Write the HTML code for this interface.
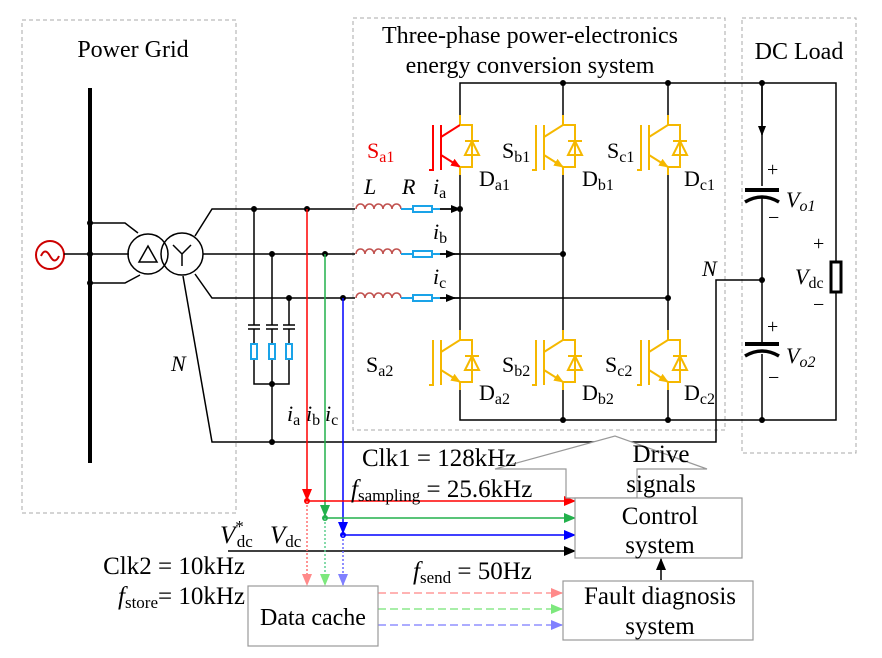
<!DOCTYPE html>
<html><head><meta charset="utf-8"><style>
html,body{margin:0;padding:0;background:#fff;}
svg{display:block;font-family:"Liberation Serif",serif;}
</style></head><body>
<svg width="882" height="658" viewBox="0 0 882 658" xmlns="http://www.w3.org/2000/svg">
<defs>
<marker id="ak" markerWidth="10" markerHeight="8" refX="9" refY="4" orient="auto" markerUnits="userSpaceOnUse"><path d="M0,0L10,4L0,8z" fill="#000"/></marker>
<marker id="ar" markerWidth="12" markerHeight="10" refX="11" refY="5" orient="auto" markerUnits="userSpaceOnUse"><path d="M0,0L12,5L0,10z" fill="#f00"/></marker>
<marker id="ag" markerWidth="12" markerHeight="10" refX="11" refY="5" orient="auto" markerUnits="userSpaceOnUse"><path d="M0,0L12,5L0,10z" fill="#22b14c"/></marker>
<marker id="ab" markerWidth="12" markerHeight="10" refX="11" refY="5" orient="auto" markerUnits="userSpaceOnUse"><path d="M0,0L12,5L0,10z" fill="#00f"/></marker>
<marker id="ak2" markerWidth="12" markerHeight="10" refX="11" refY="5" orient="auto" markerUnits="userSpaceOnUse"><path d="M0,0L12,5L0,10z" fill="#000"/></marker>
<marker id="lr" markerWidth="12" markerHeight="10" refX="11" refY="5" orient="auto" markerUnits="userSpaceOnUse"><path d="M0,0L12,5L0,10z" fill="#ff8a8a"/></marker>
<marker id="lg" markerWidth="12" markerHeight="10" refX="11" refY="5" orient="auto" markerUnits="userSpaceOnUse"><path d="M0,0L12,5L0,10z" fill="#7de87d"/></marker>
<marker id="lb" markerWidth="12" markerHeight="10" refX="11" refY="5" orient="auto" markerUnits="userSpaceOnUse"><path d="M0,0L12,5L0,10z" fill="#8080ff"/></marker>
<marker id="ly" markerWidth="10" markerHeight="8" refX="9" refY="4" orient="auto" markerUnits="userSpaceOnUse"><path d="M0,0L10,4L0,8z" fill="#f5b800"/></marker>
<marker id="lred" markerWidth="10" markerHeight="8" refX="9" refY="4" orient="auto" markerUnits="userSpaceOnUse"><path d="M0,0L10,4L0,8z" fill="#f00"/></marker>
<g id="igbt" fill="none" stroke="#f5b800" stroke-width="2">
<path d="M0,0V10L-19,22" />
<path d="M-19,40L0,52" marker-end="url(#ly)"/>
<path d="M0,52V60M-19,10V55M-27,10V55H-31M0,10H12V52H0"/>
<path d="M5,40H19L12,26zM5,26H19"/>
</g>
<g id="igbtR" fill="none" stroke-width="2">
<path d="M0,0V10" stroke="#f5b800"/>
<path d="M0,10L-19,22M-19,10V55M-27,10V55H-31" stroke="#f00"/>
<path d="M-19,40L0,52" stroke="#f00" marker-end="url(#lred)"/>
<path d="M0,52V60M0,10H12V52H0M5,40H19L12,26zM5,26H19" stroke="#f5b800"/>
</g>
</defs>

<g fill="none" stroke="#aaa" stroke-dasharray="4,3" stroke-width="1">
<rect x="22" y="20" width="214" height="493"/>
<rect x="353" y="18" width="372" height="412"/>
<rect x="742" y="18" width="114" height="435"/>
</g>

<g font-size="24" fill="#000" text-anchor="middle">
<text x="133" y="57">Power Grid</text>
<text x="530" y="43">Three-phase power-electronics</text>
<text x="530" y="73">energy conversion system</text>
<text x="799" y="59">DC Load</text>
</g>

<line x1="90" y1="88" x2="90" y2="463" stroke="#000" stroke-width="4"/>
<circle cx="50" cy="255" r="14" fill="none" stroke="#c00" stroke-width="2"/>
<path d="M41,256 q4,-9 9,0 q5,9 9,0" fill="none" stroke="#c00" stroke-width="2"/>
<g fill="none" stroke="#000" stroke-width="1.5">
<path d="M64,254H129M90,223H125L138,233M90,283H125L140,275"/>
<circle cx="148" cy="254" r="20"/><circle cx="182" cy="254" r="21"/>
<path d="M139,262H157L148,246z"/>
<path d="M182,254V266M182,254L173,245M182,254L191,245"/>
<path d="M195,236L212,209H460M203,254H460M195,274L212,298H460"/>
<path d="M183,276L212,442H716V280H762"/>
<path d="M254,209V325M272,254V325M289,298V325"/>
<path d="M248,325h12M248,329h12M266,325h12M266,329h12M283,325h12M283,329h12"/>
<path d="M254,329V344M272,329V344M289,329V344M254,359V384H289V359M272,359V442"/>
</g>
<g fill="none" stroke="#1aa3e8" stroke-width="2">
<rect x="251" y="344" width="6" height="15"/><rect x="269" y="344" width="6" height="15"/><rect x="286" y="344" width="6" height="15"/>
</g>
<g fill="#000">
<circle cx="90" cy="223" r="3"/><circle cx="90" cy="254" r="3"/><circle cx="90" cy="283" r="3"/>
<circle cx="254" cy="209" r="3"/><circle cx="307" cy="209" r="3"/>
<circle cx="272" cy="254" r="3"/><circle cx="325" cy="254" r="3"/>
<circle cx="289" cy="298" r="3"/><circle cx="343" cy="298" r="3"/>
<circle cx="272" cy="384" r="3"/><circle cx="272" cy="442" r="3"/>
</g>
<text x="171" y="371" font-size="22" font-style="italic">N</text>

<g fill="#fff" stroke="#fff" stroke-width="4"><path d="M355,209H410M355,254H410M355,298H410"/></g>
<g fill="none" stroke="#c0504d" stroke-width="1.6">
<path d="M356,209 a4.5,5 0 0 1 9,0 a4.5,5 0 0 1 9,0 a4.5,5 0 0 1 9,0 a4.5,5 0 0 1 9,0 a4.5,5 0 0 1 9,0"/>
<path d="M356,254 a4.5,5 0 0 1 9,0 a4.5,5 0 0 1 9,0 a4.5,5 0 0 1 9,0 a4.5,5 0 0 1 9,0 a4.5,5 0 0 1 9,0"/>
<path d="M356,298 a4.5,5 0 0 1 9,0 a4.5,5 0 0 1 9,0 a4.5,5 0 0 1 9,0 a4.5,5 0 0 1 9,0 a4.5,5 0 0 1 9,0"/>
</g>
<g stroke="#1aa3e8" stroke-width="2" fill="#fff">
<path d="M401,209H413M401,254H413M401,298H413M432,209H440M432,254H440M432,298H440"/>
<rect x="413" y="206" width="19" height="6"/><rect x="413" y="251" width="19" height="6"/><rect x="413" y="295" width="19" height="6"/>
</g>
<g stroke="#000" stroke-width="1.5">
<path d="M440,209H460" marker-end="url(#ak)"/>
<path d="M440,254H563"/><path d="M440,254H455" marker-end="url(#ak)"/>
<path d="M440,298H668"/><path d="M440,298H455" marker-end="url(#ak)"/>
</g>
<g font-size="22">
<text x="364" y="194" font-style="italic">L</text>
<text x="402" y="194" font-style="italic">R</text>
<text x="433" y="194" font-style="italic">i<tspan font-size="16" font-style="normal" dy="4">a</tspan></text>
<text x="433" y="239" font-style="italic">i<tspan font-size="16" font-style="normal" dy="4">b</tspan></text>
<text x="433" y="284" font-style="italic">i<tspan font-size="16" font-style="normal" dy="4">c</tspan></text>
</g>

<g fill="none" stroke="#000" stroke-width="1.5">
<path d="M460,115V83H836V262M836,292V420H460V390"/>
<path d="M460,175V330M563,83V115M563,175V330M563,390V420M668,83V115M668,175V330M668,390V420"/>
<path d="M762,83V186M762,196V344M762,354V420"/>
</g>
<path d="M762,83V135" stroke="#000" stroke-width="1.5" marker-end="url(#ak)"/>
<g fill="#000">
<circle cx="460" cy="209" r="3"/><circle cx="563" cy="254" r="3"/><circle cx="668" cy="298" r="3"/>
<circle cx="563" cy="83" r="3"/><circle cx="668" cy="83" r="3"/><circle cx="762" cy="83" r="3"/>
<circle cx="563" cy="420" r="3"/><circle cx="668" cy="420" r="3"/><circle cx="762" cy="420" r="3"/>
<circle cx="762" cy="280" r="3"/>
</g>
<use href="#igbtR" x="460" y="115"/>
<use href="#igbt" x="563" y="115"/>
<use href="#igbt" x="668" y="115"/>
<use href="#igbt" x="460" y="330"/>
<use href="#igbt" x="563" y="330"/>
<use href="#igbt" x="668" y="330"/>
<g font-size="22">
<text x="367" y="158" fill="#e00">S<tspan font-size="16" dy="4">a1</tspan></text>
<text x="502" y="158">S<tspan font-size="16" dy="4">b1</tspan></text>
<text x="607" y="158">S<tspan font-size="16" dy="4">c1</tspan></text>
<text x="479" y="186">D<tspan font-size="16" dy="4">a1</tspan></text>
<text x="582" y="186">D<tspan font-size="16" dy="4">b1</tspan></text>
<text x="684" y="186">D<tspan font-size="16" dy="4">c1</tspan></text>
<text x="366" y="372">S<tspan font-size="16" dy="4">a2</tspan></text>
<text x="502" y="372">S<tspan font-size="16" dy="4">b2</tspan></text>
<text x="605" y="372">S<tspan font-size="16" dy="4">c2</tspan></text>
<text x="479" y="400">D<tspan font-size="16" dy="4">a2</tspan></text>
<text x="582" y="400">D<tspan font-size="16" dy="4">b2</tspan></text>
<text x="684" y="400">D<tspan font-size="16" dy="4">c2</tspan></text>
</g>

<g stroke="#000" fill="none">
<path d="M745,190H779M745,344H779" stroke-width="4"/>
<path d="M745,202Q762,192 779,202M745,356Q762,346 779,356" stroke-width="3.5"/>
<rect x="831" y="262" width="10" height="30" stroke-width="3"/>
</g>
<g font-size="20">
<text x="767" y="176">+</text><text x="768" y="224">−</text>
<text x="767" y="333">+</text><text x="768" y="384">−</text>
<text x="813" y="250">+</text><text x="813" y="311">−</text>
</g>
<g font-size="22">
<text x="786" y="207" font-style="italic">V<tspan font-size="16" dy="4">o1</tspan></text>
<text x="786" y="363" font-style="italic">V<tspan font-size="16" dy="4">o2</tspan></text>
<text x="795" y="284" font-style="italic">V<tspan font-size="16" font-style="normal" dy="4">dc</tspan></text>
<text x="702" y="276" font-style="italic">N</text>
</g>

<g font-size="22">
<text x="287" y="421" font-style="italic">i<tspan font-size="16" font-style="normal" dy="4">a</tspan></text>
<text x="306" y="421" font-style="italic">i<tspan font-size="16" font-style="normal" dy="4">b</tspan></text>
<text x="325" y="421" font-style="italic">i<tspan font-size="16" font-style="normal" dy="4">c</tspan></text>
</g>
<path d="M307,209V500" stroke="#f00" stroke-width="1.5" marker-end="url(#ar)"/>
<path d="M325,254V516" stroke="#22b14c" stroke-width="1.5" marker-end="url(#ag)"/>
<path d="M343,298V533" stroke="#00f" stroke-width="1.5" marker-end="url(#ab)"/>
<path d="M307,501H575" stroke="#f00" stroke-width="1.5" marker-end="url(#ar)"/>
<path d="M325,518H575" stroke="#22b14c" stroke-width="1.5" marker-end="url(#ag)"/>
<path d="M343,535H575" stroke="#00f" stroke-width="1.5" marker-end="url(#ab)"/>
<path d="M228,551H575" stroke="#000" stroke-width="1.5" marker-end="url(#ak2)"/>
<circle cx="307" cy="501" r="3" fill="#f00"/><circle cx="325" cy="518" r="3" fill="#22b14c"/><circle cx="343" cy="535" r="3" fill="#00f"/>
<path d="M307,501V585" stroke="#ff7070" stroke-width="1.5" stroke-dasharray="2,2" marker-end="url(#lr)"/>
<path d="M325,518V585" stroke="#5fcf8f" stroke-width="1.5" stroke-dasharray="2,2" marker-end="url(#lg)"/>
<path d="M343,535V585" stroke="#6a6aff" stroke-width="1.5" stroke-dasharray="2,2" marker-end="url(#lb)"/>
<path d="M378,593H562" stroke="#ff9a9a" stroke-width="1.5" stroke-dasharray="8,4" marker-end="url(#lr)"/>
<path d="M378,609H562" stroke="#8be88b" stroke-width="1.5" stroke-dasharray="8,4" marker-end="url(#lg)"/>
<path d="M378,625H562" stroke="#9090ff" stroke-width="1.5" stroke-dasharray="8,4" marker-end="url(#lb)"/>

<g fill="#fff" stroke="#999" stroke-width="1.2">
<polygon points="495,469 615,436 707,469 637,469 637,498 566,498 566,469"/>
<rect x="575" y="498" width="167" height="60"/>
<rect x="563" y="581" width="190" height="59"/>
<rect x="248" y="586" width="130" height="60"/>
</g>
<path d="M661,580V559" stroke="#000" stroke-width="1.5" marker-end="url(#ak2)"/>
<g font-size="25" text-anchor="middle">
<text x="661" y="462">Drive</text><text x="661" y="492">signals</text>
<text x="660" y="524">Control</text><text x="660" y="553">system</text>
<text x="660" y="604">Fault diagnosis</text><text x="660" y="634">system</text>
<text x="313" y="625" font-size="24">Data cache</text>
</g>
<g font-size="25">
<text x="362" y="466">Clk1 = 128kHz</text>
<text x="351" y="497"><tspan font-style="italic">f</tspan><tspan font-size="17" dy="4">sampling</tspan><tspan dy="-4"> = 25.6kHz</tspan></text>
<text x="245" y="574" text-anchor="end">Clk2 = 10kHz</text>
<text x="245" y="604" text-anchor="end"><tspan font-style="italic">f</tspan><tspan font-size="17" dy="4">store</tspan><tspan dy="-4">= 10kHz</tspan></text>
<text x="413" y="579"><tspan font-style="italic">f</tspan><tspan font-size="17" dy="4">send</tspan><tspan dy="-4"> = 50Hz</tspan></text>
<text x="220" y="543" font-style="italic">V<tspan font-size="17" font-style="normal" dy="-11">*</tspan><tspan font-size="17" font-style="normal" dy="15" dx="-7">dc</tspan></text>
<text x="270" y="543" font-style="italic">V<tspan font-size="17" font-style="normal" dy="4">dc</tspan></text>
</g>
</svg>
</body></html>
